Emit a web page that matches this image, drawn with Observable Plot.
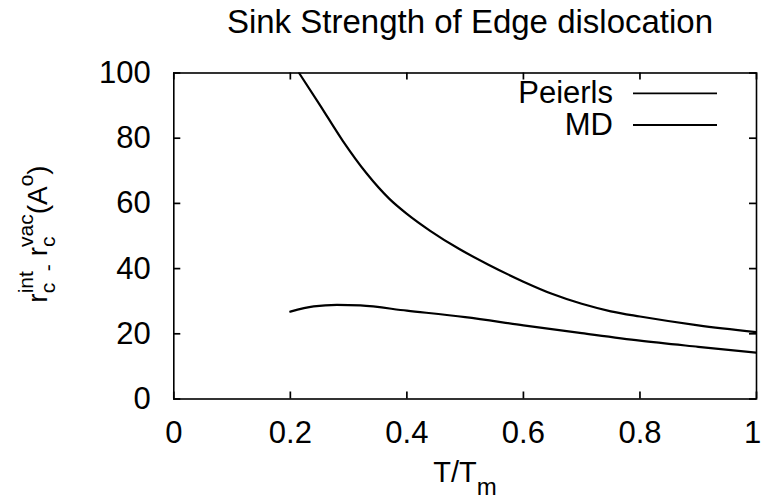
<!DOCTYPE html>
<html><head><meta charset="utf-8">
<script src="https://cdn.jsdelivr.net/npm/d3@7"></script>
<script src="https://cdn.jsdelivr.net/npm/@observablehq/plot@0.6"></script>
<style>
body{margin:0;background:#fff}
#chart{width:763px;height:500px}
</style>
</head><body><div id="chart"></div>
<script>
// ---- data ----
const titleText = "Sink Strength of Edge dislocation";
const seriesNames = ["Peierls", "MD"];
const peierlsT = [0.215, 0.25, 0.29, 0.33, 0.37, 0.40, 0.44, 0.49, 0.54, 0.60, 0.65, 0.70, 0.75, 0.80, 0.90, 1.0];
const peierlsR = [100, 90.4, 79.2, 69.4, 61.4, 56.8, 51.6, 46.0, 41.2, 36.0, 32.2, 29.2, 26.9, 25.3, 22.6, 20.5];
const mdT = [0.20, 0.24, 0.28, 0.32, 0.40, 0.50, 0.60, 0.70, 0.80, 0.90, 1.0];
const mdR = [26.8, 28.4, 28.9, 28.7, 27.1, 25.1, 22.6, 20.2, 17.9, 16.0, 14.2];
const xTicks = [0, 0.2, 0.4, 0.6, 0.8, 1];
const yTicks = [0, 20, 40, 60, 80, 100];

const peierls = peierlsT.map((t, i) => ({t, r: peierlsR[i]}));
const md = mdT.map((t, i) => ({t, r: mdR[i]}));

const FONT = "'Liberation Sans', Arial, Helvetica, sans-serif";
const W = 763, H = 500, MT = 72.5, MB = 101.5, ML = 173.3, MR = 7;
const TICK = 7;
const frameW = W - ML - MR, frameH = H - MT - MB;
const tickStyle = {stroke: "black", strokeWidth: 1.7};

const chart = Plot.plot({
  width: W, height: H,
  marginTop: MT, marginBottom: MB, marginLeft: ML, marginRight: MR,
  style: {fontFamily: FONT, background: "white", color: "black"},
  x: {domain: [0, 1]},
  y: {domain: [0, 100]},
  marks: [
    // tick labels
    Plot.axisX(xTicks.slice(0, -1), {anchor: "bottom", tickSize: 0, tickPadding: 22, fontSize: 31, label: null, tickFormat: d => String(d)}),
    Plot.axisX(xTicks.slice(-1), {anchor: "bottom", tickSize: 0, tickPadding: 22, fontSize: 31, label: null, dx: -4, tickFormat: d => String(d)}),
    Plot.axisY(yTicks, {anchor: "left", tickSize: 0, tickPadding: 23, fontSize: 31, label: null, tickFormat: d => String(d)}),
    // inward ticks on all four sides
    Plot.tickX(xTicks, {x: d => d, insetTop: frameH - TICK, ...tickStyle}),
    Plot.tickX(xTicks, {x: d => d, insetBottom: frameH - TICK, ...tickStyle}),
    Plot.tickY(yTicks, {y: d => d, insetRight: frameW - TICK, ...tickStyle}),
    Plot.tickY(yTicks, {y: d => d, insetLeft: frameW - TICK, ...tickStyle}),
    Plot.line(peierls, {x: "t", y: "r", curve: "monotone-x", stroke: "black", strokeWidth: 2.2, clip: true}),
    Plot.line(md, {x: "t", y: "r", curve: "monotone-x", stroke: "black", strokeWidth: 2.2, clip: true}),
    Plot.frame({stroke: "black", strokeWidth: 1.6})
  ]
});
document.getElementById("chart").append(chart);

const svg = d3.select(chart);

// title
svg.append("text").attr("x", 470).attr("y", 33.3).attr("text-anchor", "middle")
  .attr("font-family", FONT).attr("font-size", 33).attr("fill", "black").text(titleText);

// rich text helper: pieces placed along baseline; stacked pieces share x
function rich(g, pieces) {
  let x = 0;
  for (const p of pieces) {
    const group = p.stack || [p];
    let adv = 0;
    for (const q of group) {
      if (q.t === " ") { adv = Math.max(adv, q.s * 0.28); continue; }
      const t = g.append("text").attr("x", x).attr("y", q.b).attr("text-anchor", "start")
        .attr("font-family", FONT).attr("font-size", q.s).attr("fill", "black").text(q.t);
      adv = Math.max(adv, t.node().getComputedTextLength());
    }
    x += adv;
  }
  return x;
}

// y label
const M = 28, S = 21;
const yl = svg.append("g");
const yw = rich(yl, [
  {t: "r", s: M, b: 0},
  {stack: [{t: "c", s: S, b: 8}, {t: "int", s: S, b: -14}]},
  {t: "-", s: S, b: 8},
  {t: " ", s: M, b: 0},
  {t: "r", s: M, b: 0},
  {stack: [{t: "c", s: S, b: 8}, {t: "vac", s: S, b: -14}]},
  {t: "(A", s: M, b: 0},
  {t: "o", s: S, b: -14},
  {t: ")", s: M, b: 0}
]);
yl.attr("transform", `translate(47,234) rotate(-90) translate(${-yw / 2},0)`);

// x label
const xl = svg.append("g");
const xw = rich(xl, [
  {t: "T/T", s: 29, b: 0},
  {t: "m", s: 24, b: 13}
]);
xl.attr("transform", `translate(${465 - xw / 2},481.7)`);

// legend
const legendRows = [{y: 103.3, ly: 93.3}, {y: 135, ly: 125}];
seriesNames.forEach((name, i) => {
  svg.append("text").attr("x", 613).attr("y", legendRows[i].y).attr("text-anchor", "end")
    .attr("font-family", FONT).attr("font-size", 31).attr("fill", "black").text(name);
  svg.append("line").attr("x1", 633).attr("x2", 717).attr("y1", legendRows[i].ly).attr("y2", legendRows[i].ly)
    .attr("stroke", "black").attr("stroke-width", 1.8);
});
</script>
</body></html>
